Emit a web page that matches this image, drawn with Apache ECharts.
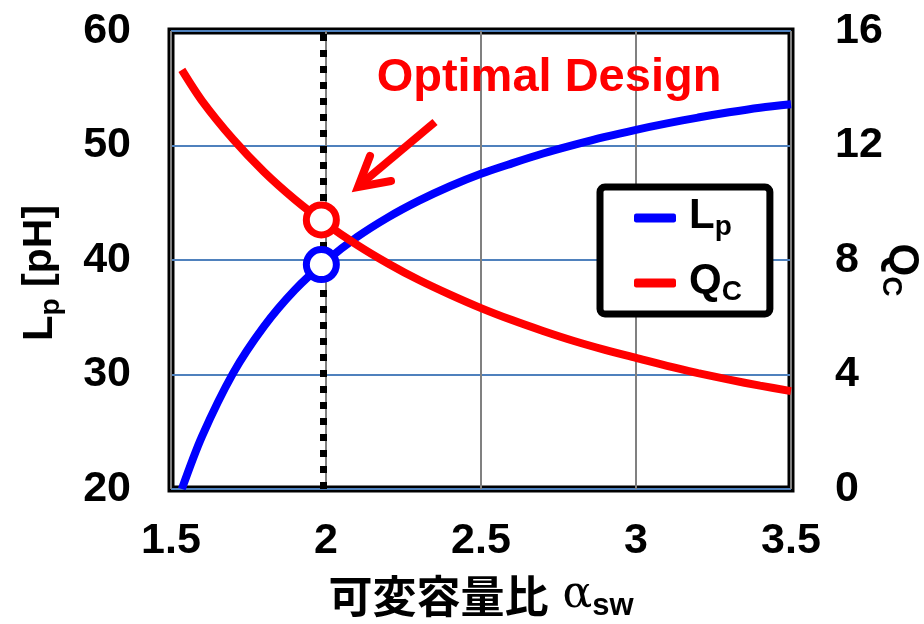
<!DOCTYPE html>
<html>
<head>
<meta charset="utf-8">
<script src="https://cdn.jsdelivr.net/npm/echarts@6/dist/echarts.min.js"></script>
<style>
  html, body { margin: 0; padding: 0; background: #fff; }
  #chart { width: 924px; height: 624px; }
</style>
</head>
<body>
<div id="chart"></div>
<script>
// Switched-capacitance ratio vs. parasitic inductance Lp and capacitor Q
const alphaSamples = [1.535, 1.6, 1.7, 1.8, 1.9, 2.0, 2.1, 2.2, 2.3, 2.4, 2.5,
  2.6, 2.7, 2.8, 2.9, 3.0, 3.1, 3.2, 3.3, 3.4, 3.5];
const lpValues = [20.0, 24.6, 30.1, 34.2, 37.4, 39.9, 42.0, 43.72, 45.18, 46.44, 47.53,
  48.44, 49.3, 50.05, 50.75, 51.37, 51.93, 52.44, 52.9, 53.3, 53.6];
const qcValues = [14.64, 13.56, 12.22, 11.08, 10.11, 9.27, 8.53, 7.88, 7.3, 6.79, 6.32,
  5.9, 5.52, 5.17, 4.86, 4.58, 4.3, 4.05, 3.82, 3.61, 3.42];

const optimalAlpha = 1.985;
const optimalLp = 39.6;
const optimalQc = 9.4;

const xTicks = { min: 1.5, max: 3.5, interval: 0.5 };
const lpTicks = { min: 20, max: 60, interval: 10 };
const qcTicks = { min: 0, max: 16, interval: 4 };

const FONT = '"Liberation Sans", Arial, sans-serif';
const CJK = '"Noto Sans CJK JP", "Noto Sans CJK SC", sans-serif';
const BLUE = '#0000ff';
const RED = '#ff0000';

const lpCurve = alphaSamples.map((a, i) => [a, lpValues[i]]);
const qcCurve = alphaSamples.map((a, i) => [a, qcValues[i]]);

const chart = echarts.init(document.getElementById('chart'), null, { renderer: 'canvas' });

const tickLabel = { fontFamily: FONT, fontWeight: 'bold', fontSize: 43, color: '#000' };
const subRich = {
  m: { fontFamily: FONT, fontWeight: 'bold', fontSize: 42, color: '#000', lineHeight: 46, verticalAlign: 'top' },
  s: { fontFamily: FONT, fontWeight: 'bold', fontSize: 28, color: '#000', lineHeight: 29, verticalAlign: 'bottom', padding: [26, 0, 0, 0] },
  g: { fontFamily: FONT, fontWeight: 'bold', fontSize: 41, color: '#000', lineHeight: 46, verticalAlign: 'top' }
};

chart.setOption({
  backgroundColor: '#fff',
  animation: false,
  grid: {
    left: 171, right: 133, top: 31, bottom: 135,
    containLabel: false,
    outerBoundsMode: 'none',
    show: true, borderColor: '#000', borderWidth: 7, backgroundColor: 'transparent'
  },
  legend: {
    data: ['Lp', 'Qc'],
    orient: 'vertical',
    left: 600, top: 187,
    backgroundColor: '#fff',
    borderColor: '#000', borderWidth: 7, borderRadius: 5,
    padding: [0, 28, 8, 34],
    itemWidth: 42, itemHeight: 9, itemGap: 11,
    icon: 'roundRect',
    formatter: function (name) {
      return name === 'Lp' ? '{m|L}{s|p}' : '{m|Q}{s|C}';
    },
    textStyle: { padding: [0, 0, 0, 8], rich: subRich }
  },
  xAxis: {
    type: 'value',
    min: xTicks.min, max: xTicks.max, interval: xTicks.interval,
    axisLine: { show: false }, axisTick: { show: false },
    axisLabel: Object.assign({ margin: 31 }, tickLabel),
    splitLine: { show: true, lineStyle: { color: '#808080', width: 2 } },
    name: '{c|可変容量比}{a| α}{s|sw}',
    nameLocation: 'middle', nameGap: 85, nameMoveOverlap: false,
    nameTextStyle: {
      rich: {
        c: { fontFamily: CJK, fontWeight: 'bold', fontSize: 44, color: '#000', lineHeight: 48, verticalAlign: 'top' },
        a: { fontFamily: '"DejaVu Serif", serif', fontSize: 44, color: '#000', lineHeight: 48, verticalAlign: 'top' },
        s: { fontFamily: FONT, fontWeight: 'bold', fontSize: 31, color: '#000', lineHeight: 30, verticalAlign: 'bottom', padding: [26, 0, 0, 0] }
      }
    }
  },
  yAxis: [
    {
      type: 'value', position: 'left',
      min: lpTicks.min, max: lpTicks.max, interval: lpTicks.interval,
      axisLine: { show: false }, axisTick: { show: false },
      axisLabel: Object.assign({ margin: 40 }, tickLabel),
      splitLine: { show: true, lineStyle: { color: '#4f81bd', width: 2 } },
      name: '{m|L}{s|p}{g| [pH]}',
      nameLocation: 'middle', nameRotate: 90, nameGap: 106, nameMoveOverlap: false,
      nameTextStyle: { padding: [0, 26, 0, 0], rich: subRich }
    },
    {
      type: 'value', position: 'right',
      min: qcTicks.min, max: qcTicks.max, interval: qcTicks.interval,
      axisLine: { show: false }, axisTick: { show: false },
      axisLabel: Object.assign({ margin: 44 }, tickLabel),
      splitLine: { show: false },
      name: '{m|Q}{s|C}',
      nameLocation: 'middle', nameRotate: -90, nameGap: 86, nameMoveOverlap: false,
      nameTextStyle: { padding: [0, 0, 0, 20], rich: subRich }
    }
  ],
  graphic: [
    {
      type: 'text', x: 549, y: 78, z: 100,
      style: {
        text: 'Optimal Design', fill: RED,
        fontFamily: FONT, fontWeight: 'bold', fontSize: 47,
        align: 'center', verticalAlign: 'middle'
      }
    },
    {
      type: 'polyline', z: 100,
      shape: { points: [[435, 122], [361, 184]] },
      style: { stroke: RED, lineWidth: 8, fill: null }
    },
    {
      type: 'polyline', z: 100,
      shape: { points: [[370, 156], [358, 187], [391, 181]] },
      style: { stroke: RED, lineWidth: 8, fill: null, lineJoin: 'miter', lineCap: 'round' }
    }
  ],
  series: [
    {
      name: 'Lp', type: 'line', yAxisIndex: 0,
      data: lpCurve, smooth: 0.3,
      showSymbol: false, symbol: 'none',
      lineStyle: { color: BLUE, width: 8 },
      itemStyle: { color: BLUE },
      z: 3,
      markLine: {
        silent: true, symbol: 'none', label: { show: false },
        lineStyle: { color: '#000', width: 7, type: [7, 9], opacity: 1 },
        data: [{ xAxis: optimalAlpha }],
        z: 2
      }
    },
    {
      name: 'Qc', type: 'line', yAxisIndex: 1,
      data: qcCurve, smooth: 0.3,
      showSymbol: false, symbol: 'none',
      lineStyle: { color: RED, width: 8 },
      itemStyle: { color: RED },
      z: 3
    },
    {
      name: 'LpOpt', type: 'scatter', yAxisIndex: 0,
      data: [[optimalAlpha, optimalLp]],
      symbol: 'circle', symbolSize: 30,
      itemStyle: { color: '#fff', borderColor: BLUE, borderWidth: 7, opacity: 1 },
      z: 5
    },
    {
      name: 'QcOpt', type: 'scatter', yAxisIndex: 1,
      data: [[optimalAlpha, optimalQc]],
      symbol: 'circle', symbolSize: 30,
      itemStyle: { color: '#fff', borderColor: RED, borderWidth: 7, opacity: 1 },
      z: 5
    }
  ]
});
</script>
</body>
</html>
